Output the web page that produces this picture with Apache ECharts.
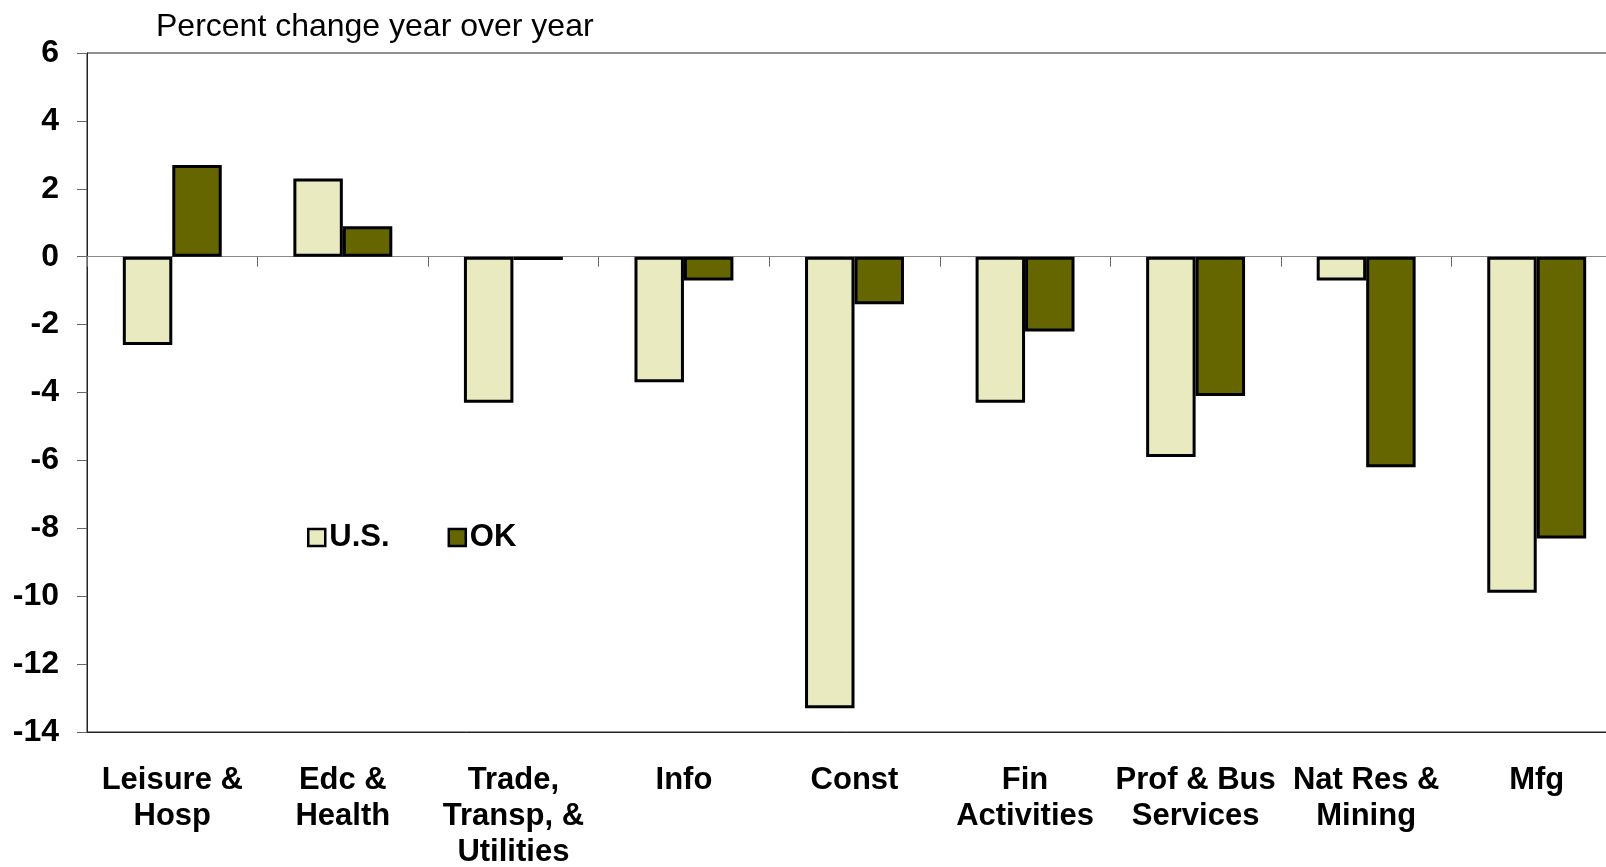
<!DOCTYPE html>
<html>
<head>
<meta charset="utf-8">
<title>Percent change year over year</title>
<script src="https://cdn.jsdelivr.net/npm/echarts@6/dist/echarts.min.js"></script>
<style>
  html, body { margin: 0; padding: 0; background: #fff; }
  #chart { width: 1606px; height: 867px; }
</style>
</head>
<body>
<div id="chart"></div>
<script>
// sectors along the x axis
const categories = [
  'Leisure &\nHosp',
  'Edc &\nHealth',
  'Trade,\nTransp, &\nUtilities',
  'Info',
  'Const',
  'Fin\nActivities',
  'Prof & Bus\nServices',
  'Nat Res &\nMining',
  'Mfg'
];
// percent change year over year
const usValues = [-2.6, 2.3, -4.3, -3.7, -13.3, -4.3, -5.9, -0.7, -9.9];
const okValues = [2.7, 0.9, -0.1, -0.7, -1.4, -2.2, -4.1, -6.2, -8.3];

const Y_MIN = -14;
const Y_MAX = 6;
const Y_STEP = 2;

const fontFamily = "'Liberation Sans', Arial, sans-serif";

const barStyle = (color) => ({
  color: color,
  borderColor: '#000',
  borderWidth: 3
});

const option = {
  animation: false,
  backgroundColor: '#fff',
  title: {
    text: 'Percent change year over year',
    left: 156,
    top: 11,
    padding: 0,
    textStyle: {
      fontFamily: fontFamily,
      fontSize: 32,
      fontWeight: 'normal',
      color: '#000'
    }
  },
  legend: {
    left: 307,
    top: 522,
    padding: 0,
    itemWidth: 17,
    itemHeight: 17,
    itemGap: 58,
    icon: 'rect',
    itemStyle: { borderColor: '#000', borderWidth: 2.5 },
    textStyle: {
      fontFamily: fontFamily,
      fontSize: 31,
      fontWeight: 'bold',
      color: '#000',
      padding: [0, 0, 0, -1]
    },
    data: ['U.S.', 'OK']
  },
  grid: {
    left: 87,
    top: 53,
    bottom: 135,
    right: -16,
    outerBoundsMode: 'none',
    containLabel: false,
    show: true,
    borderColor: '#222',
    borderWidth: 1
  },
  xAxis: [
    {
      type: 'category',
      data: categories,
      position: 'bottom',
      axisLine: { onZero: false, lineStyle: { color: '#222', width: 1 } },
      axisTick: { show: false },
      axisLabel: {
        interval: 0,
        margin: 30,
        fontFamily: fontFamily,
        fontSize: 31,
        fontWeight: 'bold',
        lineHeight: 36,
        color: '#000',
        align: 'center'
      },
      splitLine: { show: false }
    },
    {
      // zero line with the category ticks hanging below it
      type: 'category',
      data: categories,
      position: 'bottom',
      axisLine: { onZero: true, lineStyle: { color: '#888', width: 1 } },
      axisTick: { show: true, interval: 0, length: 10, lineStyle: { color: '#666', width: 1 } },
      axisLabel: { show: false },
      splitLine: { show: false }
    }
  ],
  yAxis: {
    type: 'value',
    min: Y_MIN,
    max: Y_MAX,
    interval: Y_STEP,
    axisLine: { show: true, lineStyle: { color: '#222', width: 1 } },
    axisTick: { show: true, length: 10, lineStyle: { color: '#666', width: 1 } },
    axisLabel: {
      margin: 28,
      fontFamily: fontFamily,
      fontSize: 32,
      fontWeight: 'bold',
      color: '#000'
    },
    splitLine: { show: false }
  },
  series: [
    {
      name: 'U.S.',
      type: 'bar',
      xAxisIndex: 0,
      data: usValues,
      barGap: '0%',
      barCategoryGap: '42%',
      itemStyle: barStyle('#E9EAC0')
    },
    {
      name: 'OK',
      type: 'bar',
      xAxisIndex: 0,
      data: okValues,
      barGap: '0%',
      barCategoryGap: '42%',
      itemStyle: barStyle('#666600')
    }
  ]
};

const chartInstance = echarts.init(document.getElementById('chart'));
chartInstance.setOption(option);
</script>
</body>
</html>
